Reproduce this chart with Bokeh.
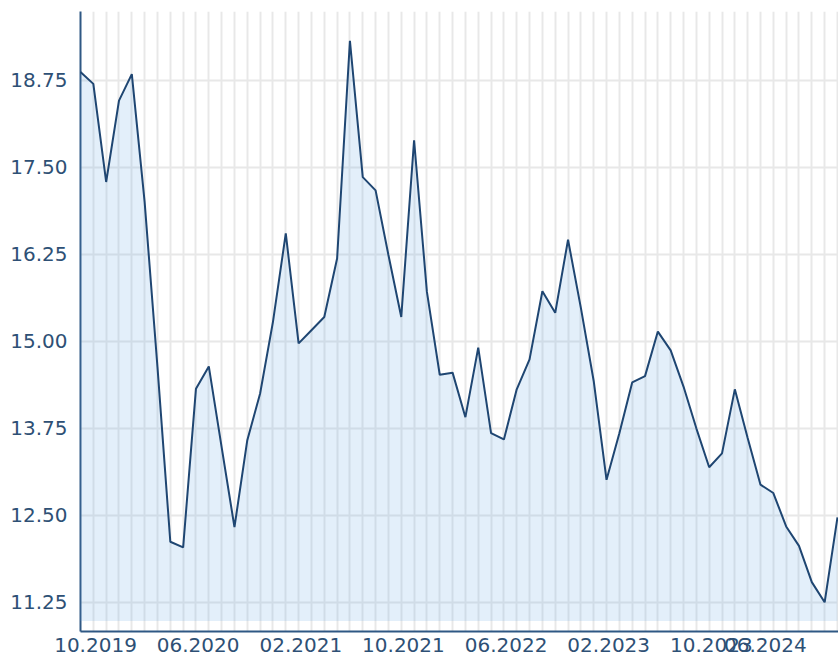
from bokeh.plotting import figure
from bokeh.models import Range1d, FixedTicker, NumeralTickFormatter, ColumnDataSource
from bokeh.embed import file_html
from bokeh.resources import INLINE

# Monthly values, first point 10.2019
values = [18.87, 18.70, 17.29, 18.46, 18.84, 17.00, 14.63, 12.12, 12.04, 14.32,
          14.64, 13.48, 12.33, 13.58, 14.25, 15.28, 16.55, 14.97, 15.16, 15.35,
          16.19, 19.32, 17.36, 17.17, 16.24, 15.35, 17.89, 15.71, 14.52, 14.55,
          13.91, 14.91, 13.68, 13.59, 14.31, 14.74, 15.72, 15.41, 16.46, 15.48,
          14.43, 13.01, 13.68, 14.41, 14.50, 15.14, 14.87, 14.35, 13.75, 13.19,
          13.39, 14.31, 13.61, 12.94, 12.82, 12.34, 12.06, 11.54, 11.25, 12.47]
month_index = list(range(len(values)))

y_ticks = [11.25, 12.50, 13.75, 15.00, 16.25, 17.50, 18.75]
x_label_months = [0, 8, 16, 24, 32, 40, 48, 56]
x_labels = ["10.2019", "06.2020", "02.2021", "10.2021", "06.2022", "02.2023", "10.2023", "06.2024"]
fill_baseline = 10.98

X_END = 59.08
LABEL_SHIFT = 1.17      # labels sit a little right of their month line
RIGHT_KEEP = 5.7        # last label pulled inside the chart

label_pos = [m + LABEL_SHIFT for m in x_label_months]
label_pos[-1] = min(label_pos[-1], X_END - RIGHT_KEEP)

src = ColumnDataSource(dict(x=month_index, y=values, base=[fill_baseline] * len(values)))

p = figure(width=838, height=662, output_backend="svg", toolbar_location=None,
           x_range=Range1d(0, X_END), y_range=Range1d(10.83, 19.74),
           min_border_left=80, min_border_right=0, min_border_top=11, min_border_bottom=31)
p.outline_line_color = None
p.background_fill_color = "white"
p.border_fill_color = "white"

# grids
p.xgrid.ticker = FixedTicker(ticks=month_index)
p.xgrid.grid_line_color = "#e8e8e8"
p.xgrid.grid_line_width = 2
p.ygrid.ticker = FixedTicker(ticks=y_ticks)
p.ygrid.grid_line_color = "#e8e8e8"
p.ygrid.grid_line_width = 2

# y axis
ya = p.yaxis[0]
ya.ticker = FixedTicker(ticks=y_ticks)
ya.formatter = NumeralTickFormatter(format="0.00")
ya.axis_line_color = "#2f5884"
ya.axis_line_width = 2
ya.major_tick_line_color = None
ya.minor_tick_line_color = None
ya.major_tick_out = 0
ya.major_tick_in = 0
ya.major_label_standoff = 13
ya.major_label_text_font = "DejaVu Sans"
ya.major_label_text_font_size = "20px"
ya.major_label_text_color = "#2e5075"

# x axis
xa = p.xaxis[0]
xa.ticker = FixedTicker(ticks=label_pos)
xa.major_label_overrides = {pos: lab for pos, lab in zip(label_pos, x_labels)}
xa.axis_line_color = "#2f5884"
xa.axis_line_width = 2
xa.major_tick_line_color = None
xa.minor_tick_line_color = None
xa.major_tick_out = 0
xa.major_tick_in = 0
xa.major_label_standoff = 6
xa.major_label_text_font = "DejaVu Sans"
xa.major_label_text_font_size = "20px"
xa.major_label_text_color = "#2e5075"

p.varea(x="x", y1="base", y2="y", source=src, fill_color="#73afe6", fill_alpha=0.2, level="overlay")
p.line(x="x", y="y", source=src, line_color="#1f4672", line_width=2, level="overlay")

open("out.html", "w").write(file_html(p, INLINE))
